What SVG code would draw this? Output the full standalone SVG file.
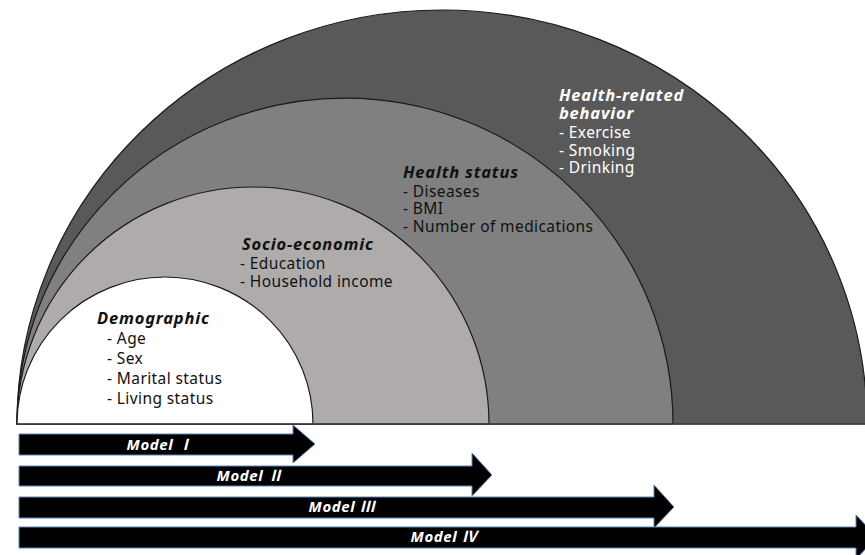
<svg xmlns="http://www.w3.org/2000/svg" width="865" height="555" viewBox="0 0 865 555">
  <style>
    .layer { stroke: #1a1a1a; stroke-width: 1.2; }
    .block { font-family: "Noto Sans", "Open Sans", sans-serif; font-size: 15.5px; letter-spacing: 0.4px; }
    .title { font-size: 16.5px; font-weight: bold; font-style: italic; letter-spacing: 0.8px; }
    .dark { fill: #111; }
    .light { fill: #fff; }
    .model { fill: #000; stroke: #5b86b8; stroke-width: 1; }
    .mlabel { font-family: "Noto Sans", "Noto Sans CJK KR", sans-serif; font-size: 15px; font-weight: bold; font-style: italic; letter-spacing: 0.6px; fill: #fff; text-anchor: middle; }
  </style>
  <rect width="865" height="555" fill="#fff"/>

  <!-- Nested half-domes, drawn from the outermost layer inwards -->
  <g id="behavior">
    <path class="layer" d="M17,424 A425,414 0 0 1 867,424 Z" fill="#595959"/>
    <text class="block light">
      <tspan class="title" x="559" y="101">Health-related</tspan>
      <tspan class="title" x="559" y="119">behavior</tspan>
      <tspan x="559" y="138">- Exercise</tspan>
      <tspan x="559" y="155.5">- Smoking</tspan>
      <tspan x="559" y="173">- Drinking</tspan>
    </text>
  </g>

  <g id="health-status">
    <path class="layer" d="M17,424 A328,326 0 0 1 673,424 Z" fill="#808080"/>
    <text class="block dark">
      <tspan class="title" x="403" y="178">Health status</tspan>
      <tspan x="403" y="197">- Diseases</tspan>
      <tspan x="403" y="214">- BMI</tspan>
      <tspan x="403" y="231.5">- Number of medications</tspan>
    </text>
  </g>

  <g id="socio-economic">
    <path class="layer" d="M17,424 A236,237 0 0 1 489,424 Z" fill="#afabab"/>
    <text class="block dark">
      <tspan class="title" x="242" y="250">Socio-economic</tspan>
      <tspan x="240" y="269">- Education</tspan>
      <tspan x="240" y="287">- Household income</tspan>
    </text>
  </g>

  <g id="demographic">
    <path class="layer" d="M17,424 A148,147 0 0 1 313,424 Z" fill="#fff"/>
    <text class="block dark">
      <tspan class="title" x="97" y="324">Demographic</tspan>
      <tspan x="107" y="344">- Age</tspan>
      <tspan x="107" y="364">- Sex</tspan>
      <tspan x="107" y="384">- Marital status</tspan>
      <tspan x="107" y="404">- Living status</tspan>
    </text>
  </g>

  <!-- Ground line under the domes -->
  <line x1="17" y1="424" x2="865" y2="424" stroke="#404040" stroke-width="1.5"/>

  <!-- Model block arrows, each reaching the edge of the layers it includes -->
  <g id="models">
    <g id="model-1">
      <path class="model" d="M19,434 H293 V425 L315,444 L293,463 V455 H19 Z"/>
      <text class="mlabel" x="160" y="450">Model <tspan font-family="Noto Sans CJK KR">Ⅰ</tspan></text>
    </g>
    <g id="model-2">
      <path class="model" d="M19,466 H472 V453 L492,475 L472,496 V486 H19 Z"/>
      <text class="mlabel" x="250" y="481">Model <tspan font-family="Noto Sans CJK KR">Ⅱ</tspan></text>
    </g>
    <g id="model-3">
      <path class="model" d="M19,497 H654 V485 L674,507 L654,528 V518 H19 Z"/>
      <text class="mlabel" x="342" y="512">Model <tspan font-family="Noto Sans CJK KR">Ⅲ</tspan></text>
    </g>
    <g id="model-4">
      <path class="model" d="M19,527 H856 V515 L877,537 L856,559 V548 H19 Z"/>
      <text class="mlabel" x="444" y="542">Model <tspan font-family="Noto Sans CJK KR">Ⅳ</tspan></text>
    </g>
  </g>
</svg>
